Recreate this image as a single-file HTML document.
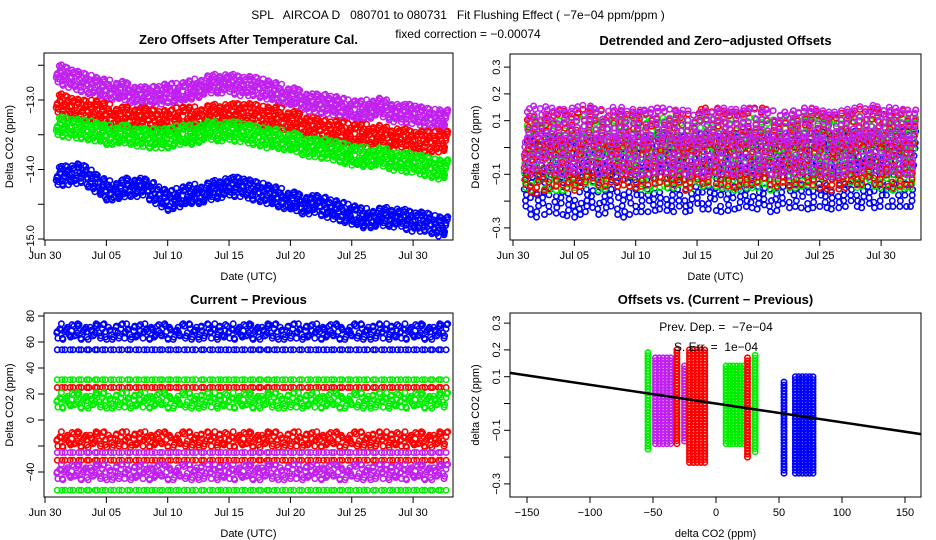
<!DOCTYPE html>
<html><head><meta charset="utf-8">
<style>
body{margin:0;background:#fff;}
svg{display:block;font-family:"Liberation Sans",sans-serif;}
text{white-space:pre;}
</style></head>
<body>
<svg id="s" width="936" height="540" viewBox="0 0 936 540" xmlns="http://www.w3.org/2000/svg">
<rect width="936" height="540" fill="#fff"/>
<text x="458" y="19" text-anchor="middle" font-size="12" xml:space="preserve">SPL   AIRCOA D   080701 to 080731   Fit Flushing Effect ( −7e−04 ppm/ppm )</text>
<text x="468" y="38" text-anchor="middle" font-size="12">fixed correction = −0.00074</text>
<g id="g"></g>
</svg>
<script>
// ---- Panel 1 daily means (Jul 1 .. Aug 1) ----
const p1Purple=[-12.62,-12.68,-12.74,-12.8,-12.85,-12.86,-12.9,-12.95,-12.94,-12.9,-12.9,-12.85,-12.8,-12.76,-12.76,-12.8,-12.8,-12.85,-12.9,-12.95,-13.0,-13.05,-13.06,-13.1,-13.15,-13.15,-13.1,-13.15,-13.2,-13.2,-13.25,-13.28];
const p1Red=[-13.05,-13.1,-13.15,-13.15,-13.2,-13.25,-13.25,-13.25,-13.3,-13.3,-13.25,-13.25,-13.24,-13.2,-13.2,-13.2,-13.2,-13.25,-13.25,-13.3,-13.35,-13.4,-13.45,-13.45,-13.5,-13.5,-13.5,-13.55,-13.55,-13.6,-13.6,-13.6];
const p1Green=[-13.38,-13.4,-13.42,-13.45,-13.5,-13.5,-13.5,-13.55,-13.55,-13.55,-13.5,-13.5,-13.45,-13.45,-13.45,-13.46,-13.5,-13.55,-13.56,-13.6,-13.65,-13.7,-13.7,-13.75,-13.8,-13.82,-13.82,-13.85,-13.9,-13.9,-13.95,-14.0];
const p1Blue=[-14.1,-14.08,-14.05,-14.18,-14.3,-14.3,-14.25,-14.25,-14.35,-14.45,-14.4,-14.35,-14.35,-14.28,-14.25,-14.25,-14.3,-14.35,-14.4,-14.45,-14.5,-14.5,-14.55,-14.6,-14.65,-14.7,-14.7,-14.68,-14.7,-14.75,-14.75,-14.82];
const p1Spread=[0.14,0.15,0.14,0.14];
// ---- Panel 2 residual daily means ----
const p2Purple=[0.02,0.04,0.03,0.02,0.03,0.04,0.02,0.03,0.03,0.02,0.02,0.03,0.02,0.02,0.01,0.02,0.03,0.02,0.03,0.02,0.02,0.01,0.02,0.03,0.02,0.01,0.02,0.03,0.04,0.03,0.03,0.02];
const p2Red=[-0.02,-0.03,-0.01,0.0,-0.02,0.01,0.0,-0.01,0.0,-0.01,0.0,0.01,0.0,-0.02,0.0,0.01,0.0,-0.01,0.0,0.01,0.0,-0.01,0.0,0.01,-0.01,-0.02,-0.01,0.0,0.01,0.0,-0.01,0.0];
const p2Green=[-0.04,-0.02,-0.03,-0.03,-0.02,-0.01,-0.03,-0.02,-0.01,-0.02,-0.03,-0.02,-0.02,-0.03,-0.02,-0.01,-0.02,-0.03,-0.02,-0.02,-0.03,-0.02,-0.02,-0.01,-0.02,-0.03,-0.02,-0.02,-0.01,-0.02,-0.03,-0.02];
const p2Blue=[-0.1,-0.12,-0.1,-0.11,-0.12,-0.1,-0.11,-0.1,-0.12,-0.1,-0.1,-0.09,-0.1,-0.1,-0.09,-0.09,-0.1,-0.09,-0.08,-0.09,-0.1,-0.09,-0.08,-0.09,-0.08,-0.09,-0.08,-0.08,-0.09,-0.08,-0.08,-0.08];
const p2Spread=[0.12,0.14,0.13,0.14];
// ---- Panel 3 levels ----
const p3Levels=[68,54,31,25,15,-15,-25,-31,-40,-54];
const p3Colors=["#0000ff","#0000ff","#00ee00","#ff0000","#00ee00","#ff0000","#c020f0","#ff0000","#c020f0","#00ee00"];
const p3Spread=[6,0,0,0,6,6,0,0,6,0];
// ---- Panel 4 columns: center x, half width, ymin, ymax ----
const p4X=[-54,-42,-31,-25,-15,15,25,31,54,70];
const p4W=[1,6,1,1,6,7,1,1,1,7];
const p4Ymin=[-0.17,-0.15,-0.15,-0.14,-0.22,-0.15,-0.2,-0.18,-0.26,-0.26];
const p4Ymax=[0.19,0.17,0.2,0.14,0.2,0.14,0.17,0.18,0.08,0.1];
const p4Colors=["#00ee00","#c020f0","#ff0000","#c020f0","#ff0000","#00ee00","#ff0000","#00ee00","#0000ff","#0000ff"];
const slope=-7e-4;
const jit=[0,0.55,-0.4,0.9,-0.85,0.2,-0.7,0.7,-0.15,0.35,-1,0.1,-0.55,1];

const NS="http://www.w3.org/2000/svg";
const G=document.getElementById('g');
function el(t,a,p){const e=document.createElementNS(NS,t);for(const k in a)e.setAttribute(k,a[k]);(p||G).appendChild(e);return e;}
function txt(x,y,s,opt,p){const e=el('text',Object.assign({x:x,y:y,'font-size':11},opt||{}),p);e.textContent=s;return e;}
const cols=["#c020f0","#ff0000","#00ee00","#0000ff"];

function panel(name,L,R,T,B,title,xlab,ylab){
  const g=el('g',{});
  
  
  const b=el('rect',{x:L,y:T,width:R-L,height:B-T,fill:'none',stroke:'#000','stroke-width':1},g);
  
  
  const t=txt((L+R)/2,T-9,title,{'text-anchor':'middle','font-size':13,'font-weight':'bold'},g);
  
  
  const xl=txt((L+R)/2,B+40,xlab,{'text-anchor':'middle'},g);
  
  
  const yl=txt(0,0,ylab,{'text-anchor':'middle',transform:`translate(${L-31},${(T+B)/2}) rotate(-90)`},g);
  
  
  return g;
}
function xticks(g,vals,labels,sx,B){
  const a=el('g',{},g);
  
  
  el('line',{x1:sx(vals[0]),x2:sx(vals[vals.length-1]),y1:B,y2:B,stroke:'#000'},a);
  vals.forEach((v,i)=>{el('line',{x1:sx(v),x2:sx(v),y1:B,y2:B+6,stroke:'#000'},a);
    const t=txt(sx(v),B+19,labels[i],{'text-anchor':'middle'},a);
    
    });
}
function yticks(g,vals,labels,sy,L){
  const a=el('g',{},g);
  
  
  el('line',{x1:L,x2:L,y1:sy(vals[0]),y2:sy(vals[vals.length-1]),stroke:'#000'},a);
  vals.forEach((v,i)=>{el('line',{x1:L-6,x2:L,y1:sy(v),y2:sy(v),stroke:'#000'},a);
    if(labels[i]!==''){const t=txt(0,0,labels[i],{'text-anchor':'middle',transform:`translate(${L-10},${sy(v)}) rotate(-90)`},a);
    
    }});
}
function pt(p,x,y,c){el('circle',{cx:x.toFixed(1),cy:y.toFixed(1),r:2.7,fill:'none',stroke:c,'stroke-width':1.6},p);}
function band(g,name,arr,spread,c,sx,sy,sub,n){
  const s=el('g',{},g);
  
  
  for(let i=0;i<arr.length;i++){
    const nxt=i<arr.length-1?arr[i+1]:arr[i];
    for(let k=0;k<sub;k++){
      const f=k/sub, v=arr[i]+(nxt-arr[i])*f;
      for(let j=0;j<n;j++){
        const off=jit[(i*sub*3+k*5+j*4)%jit.length];
        pt(s,sx(1+i+f+0.1*jit[(i+j+k)%jit.length]),sy(v+off*spread),c);
        if(spread===0)break;
      }
    }
  }
}
const dayT=[0,5,10,15,20,25,30], dayL=["Jun 30","Jul 05","Jul 10","Jul 15","Jul 20","Jul 25","Jul 30"];

// Panel 1
{const L=44,R=453,T=53,B=240;
 const sx=d=>45+d*12.27, sy=v=>100+(-13-v)*69.5;
 const g=panel('panel-zero-offsets',L,R,T,B,'Zero Offsets After Temperature Cal.','Date (UTC)','Delta CO2 (ppm)');
 xticks(g,dayT,dayL,sx,B);
 yticks(g,[-12.5,-13,-13.5,-14,-14.5,-15],['','−13.0','','−14.0','','−15.0'],sy,L);
 [p1Purple,p1Red,p1Green,p1Blue].forEach((a,i)=>band(g,'series-'+['purple','red','green','blue'][i],a,p1Spread[i],cols[i],sx,sy,4,5));}
// Panel 2
{const L=510,R=921,T=54,B=240;
 const sx=d=>513+d*12.27, sy=v=>147.5-v*268;
 const g=panel('panel-detrended',L,R,T,B,'Detrended and Zero−adjusted Offsets','Date (UTC)','Delta CO2 (ppm)');
 xticks(g,dayT,dayL,sx,B);
 yticks(g,[0.3,0.2,0.1,0,-0.1,-0.2,-0.3],['0.3','0.2','0.1','','−0.1','','−0.3'],sy,L);
 [p2Blue,p2Green,p2Red,p2Purple].forEach((a,i)=>band(g,'series-'+['blue','green','red','purple'][i],a,p2Spread[3-i],cols[3-i],sx,sy,4,6));}
// Panel 3
{const L=44,R=453,T=313,B=497;
 const sx=d=>45+d*12.27, sy=v=>420-v*1.3;
 const g=panel('panel-current-previous',L,R,T,B,'Current − Previous','Date (UTC)','Delta CO2 (ppm)');
 xticks(g,dayT,dayL,sx,B);
 yticks(g,[80,60,40,20,0,-20,-40],['80','60','40','20','0','','−40'],sy,L);
 p3Levels.forEach((lv,i)=>{const arr=[];for(let d=0;d<32;d++)arr.push(lv);
   band(g,'series-level-'+i,arr,p3Spread[i],p3Colors[i],sx,sy,p3Spread[i]?4:3,3);});}
// Panel 4
{const L=510,R=921,T=313,B=497;
 const sx=v=>716+v*1.26, sy=v=>403.5-v*268;
 const g=panel('panel-offsets-vs-diff',L,R,T,B,'Offsets vs. (Current − Previous)','delta CO2 (ppm)','delta CO2 (ppm)');
 xticks(g,[-150,-100,-50,0,50,100,150],['−150','−100','−50','0','50','100','150'],sx,B);
 yticks(g,[0.3,0.2,0.1,0,-0.1,-0.2,-0.3],['0.3','0.2','0.1','','−0.1','','−0.3'],sy,L);
 p4X.forEach((cx,i)=>{const s=el('g',{},g);
   
   
   const nx=Math.max(1,Math.round(p4W[i]*2/2.5)), ny=Math.round((p4Ymax[i]-p4Ymin[i])*268/3);
   for(let a=0;a<nx;a++)for(let b=0;b<=ny;b++){
     const xv=cx-p4W[i]+(nx>1?2*p4W[i]*a/(nx-1):p4W[i]);
     const yv=p4Ymin[i]+(p4Ymax[i]-p4Ymin[i])*b/ny;
     pt(s,sx(xv),sy(yv),p4Colors[i]);}});
 const ln=el('line',{x1:L,x2:R,y1:sy(slope*(-163)),y2:sy(slope*163),stroke:'#000','stroke-width':2.5},g);
 
 
 const t1=txt(716,331,'Prev. Dep. =  −7e−04',{'text-anchor':'middle','font-size':12},g);
 
 
 const t2=txt(716,351,'S. Err. =  1e−04',{'text-anchor':'middle','font-size':12},g);
 
 }
</script>
</body></html>
